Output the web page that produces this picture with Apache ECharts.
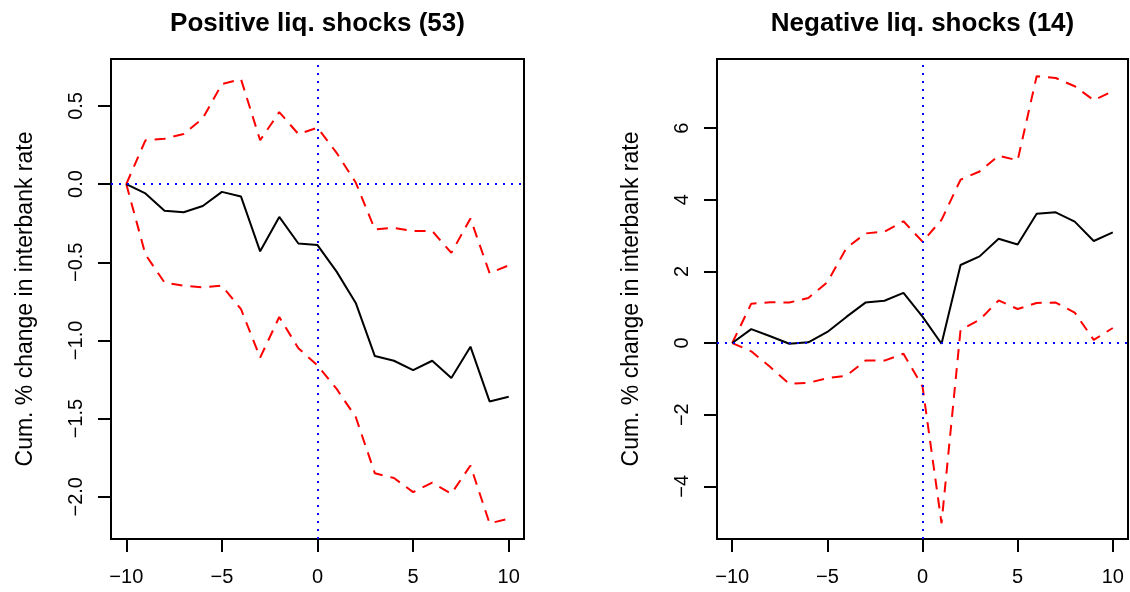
<!DOCTYPE html>
<html style="height: 100%">
  <head>
    <meta charset="utf-8" />
  </head>
  <body style="height: 100%; margin: 0; background: #fff">
    <div id="container" style="height: 100%"></div>

    <script
      type="text/javascript"
      src="https://cdn.jsdelivr.net/npm/echarts@6/dist/echarts.min.js"
    ></script>

    <script type="text/javascript">
      // event window (days around the shock)
      var lags = [-10, -9, -8, -7, -6, -5, -4, -3, -2, -1, 0, 1, 2, 3, 4, 5, 6, 7, 8, 9, 10];

      // positive liquidity shocks (53)
      var posMean = [0, -0.06, -0.17, -0.18, -0.14, -0.05, -0.08, -0.43, -0.21, -0.38, -0.39,
        -0.56, -0.76, -1.10, -1.13, -1.19, -1.13, -1.24, -1.04, -1.39, -1.36];
      var posUpper = [0, 0.28, 0.29, 0.32, 0.42, 0.64, 0.67, 0.28, 0.46, 0.32, 0.36,
        0.20, 0.01, -0.29, -0.28, -0.30, -0.30, -0.44, -0.22, -0.57, -0.52];
      var posLower = [0, -0.45, -0.63, -0.65, -0.66, -0.65, -0.80, -1.11, -0.85, -1.05, -1.16,
        -1.31, -1.49, -1.85, -1.88, -1.97, -1.91, -1.98, -1.80, -2.17, -2.14];

      // negative liquidity shocks (14)
      var negMean = [0, 0.39, 0.19, -0.02, 0.02, 0.31, 0.73, 1.13, 1.18, 1.40, 0.74,
        -0.02, 2.18, 2.42, 2.91, 2.75, 3.61, 3.65, 3.39, 2.85, 3.09];
      var negUpper = [0, 1.10, 1.14, 1.13, 1.26, 1.70, 2.65, 3.06, 3.11, 3.40, 2.83,
        3.44, 4.56, 4.79, 5.23, 5.10, 7.45, 7.40, 7.17, 6.78, 7.03];
      var negLower = [0, -0.23, -0.67, -1.14, -1.11, -0.98, -0.91, -0.49, -0.49, -0.30, -1.21,
        -5.03, 0.37, 0.65, 1.19, 0.95, 1.12, 1.13, 0.85, 0.09, 0.42];

      var xTicks = [-10, -5, 0, 5, 10];
      var posTicks = [-2, -1.5, -1, -0.5, 0, 0.5];
      var negTicks = [-4, -2, 0, 2, 4, 6];

      var titles = ["Positive liq. shocks (53)", "Negative liq. shocks (14)"];
      var yName = "Cum. % change in interbank rate";

      var FONT = "'Liberation Sans', Arial, Helvetica, sans-serif";

      function pairs(vals) {
        return lags.map(function (l, i) {
          return [l, vals[i]];
        });
      }

      function minus(s) {
        return String(s).replace("-", "\u2212");
      }

      function xAxisFor(gridIndex) {
        return {
          type: "value",
          gridIndex: gridIndex,
          min: -10.8,
          max: 10.8,
          axisLine: { show: false, onZero: false },
          splitLine: { show: false },
          axisTick: {
            show: true,
            inside: false,
            length: 13,
            customValues: xTicks,
            lineStyle: { color: "#000", width: 2 },
          },
          axisLabel: {
            show: true,
            customValues: xTicks,
            margin: 28,
            color: "#000",
            fontSize: 20,
            fontFamily: FONT,
            formatter: function (v) {
              return minus(v);
            },
          },
        };
      }

      function yAxisFor(gridIndex, min, max, ticks, digits) {
        return {
          type: "value",
          gridIndex: gridIndex,
          min: min,
          max: max,
          name: yName,
          nameLocation: "middle",
          nameRotate: 90,
          nameGap: 74,
          nameTextStyle: { color: "#000", fontSize: 23, fontFamily: FONT },
          axisLine: { show: false, onZero: false },
          splitLine: { show: false },
          axisTick: {
            show: true,
            inside: false,
            length: 13,
            customValues: ticks,
            lineStyle: { color: "#000", width: 2 },
          },
          axisLabel: {
            show: true,
            customValues: ticks,
            rotate: 90,
            margin: 25,
            color: "#000",
            fontSize: 20,
            fontFamily: FONT,
            formatter: function (v) {
              return minus(v.toFixed(digits));
            },
          },
        };
      }

      function bandSeries(vals, idx) {
        return {
          type: "line",
          xAxisIndex: idx,
          yAxisIndex: idx,
          data: pairs(vals),
          symbol: "none",
          silent: true,
          lineStyle: { color: "#ff0000", width: 2, type: [11, 8] },
          z: 3,
        };
      }

      function meanSeries(vals, idx) {
        return {
          type: "line",
          xAxisIndex: idx,
          yAxisIndex: idx,
          data: pairs(vals),
          symbol: "none",
          silent: true,
          lineStyle: { color: "#000", width: 2 },
          z: 4,
          markLine: {
            silent: true,
            symbol: "none",
            label: { show: false },
            lineStyle: { color: "#0000ff", width: 2, type: [2, 6] },
            data: [{ yAxis: 0 }, { xAxis: 0 }],
          },
        };
      }

      var dom = document.getElementById("container");
      var myChart = echarts.init(dom);

      var option = {
        animation: false,
        backgroundColor: "#fff",
        graphic: [
          {
            type: "text",
            x: 317.5,
            y: 11,
            style: {
              text: titles[0],
              align: "center",
              fill: "#000",
              font: "bold 26px " + FONT,
            },
          },
          {
            type: "text",
            x: 922.5,
            y: 11,
            style: {
              text: titles[1],
              align: "center",
              fill: "#000",
              font: "bold 26px " + FONT,
            },
          },
        ],
        grid: [
          {
            left: 111, top: 59, width: 413, height: 480,
            show: true, borderColor: "#000", borderWidth: 2,
            outerBoundsMode: "none",
          },
          {
            left: 717, top: 59, width: 411, height: 480,
            show: true, borderColor: "#000", borderWidth: 2,
            outerBoundsMode: "none",
          },
        ],
        xAxis: [xAxisFor(0), xAxisFor(1)],
        yAxis: [
          yAxisFor(0, -2.27, 0.8, posTicks, 1),
          yAxisFor(1, -5.47, 7.93, negTicks, 0),
        ],
        series: [
          meanSeries(posMean, 0),
          bandSeries(posUpper, 0),
          bandSeries(posLower, 0),
          meanSeries(negMean, 1),
          bandSeries(negUpper, 1),
          bandSeries(negLower, 1),
        ],
      };

      if (option && typeof option === "object") {
        myChart.setOption(option);
      }
    </script>
  </body>
</html>
